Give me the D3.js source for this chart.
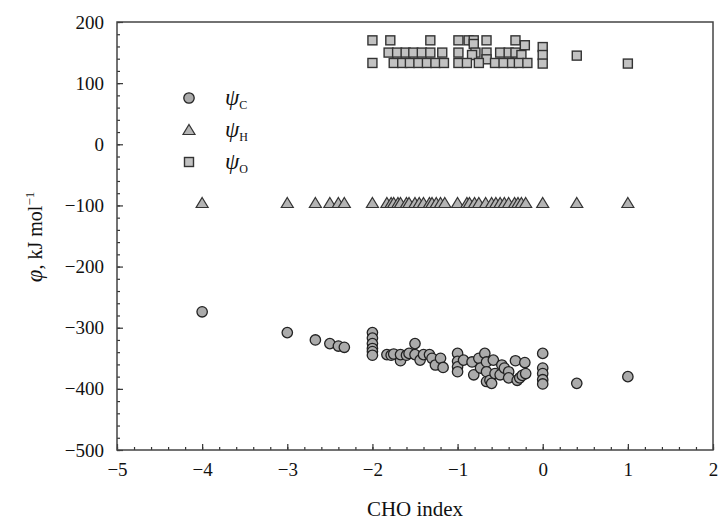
<!DOCTYPE html>
<html>
<head>
<meta charset="utf-8">
<script src="https://cdn.jsdelivr.net/npm/d3@7"></script>
<style>
  body { margin: 0; background: #fff; }
  text { font-family: "Liberation Serif", "Times New Roman", serif; fill: #111; }
</style>
</head>
<body>
<div id="chart"></div>
<script>
//data: [CHO index, value]
let psiC = [
  [-4, -274], [-3, -308], [-2.67, -320], [-2.5, -326], [-2.4, -330], [-2.33, -332],
  [-2, -308], [-2, -317], [-2, -326], [-2, -334], [-2, -339], [-2, -345],
  [-1.83, -344], [-1.78, -345], [-1.75, -343], [-1.67, -354], [-1.67, -344], [-1.6, -345],
  [-1.57, -342], [-1.5, -326], [-1.5, -344], [-1.44, -353], [-1.4, -344], [-1.33, -344],
  [-1.3, -350], [-1.26, -361], [-1.2, -350], [-1.17, -365],
  [-1, -342], [-1, -355], [-1, -364], [-1, -372],
  [-0.93, -353], [-0.83, -356], [-0.81, -377], [-0.75, -350], [-0.73, -366],
  [-0.68, -342], [-0.66, -356], [-0.66, -372], [-0.66, -388], [-0.62, -386], [-0.6, -391],
  [-0.58, -353], [-0.56, -375], [-0.48, -361], [-0.5, -377], [-0.45, -366], [-0.4, -372],
  [-0.4, -382], [-0.32, -354], [-0.3, -386], [-0.27, -382], [-0.24, -378], [-0.21, -357], [-0.2, -375],
  [0, -342], [0, -366], [0, -375], [0, -385], [0, -392],
  [0.4, -391], [1, -380]
];

let psiH = [
  [-4, -96], [-3, -96], [-2.67, -96], [-2.5, -96], [-2.4, -96], [-2.33, -96], [-2, -96],
  [-1.83, -96], [-1.78, -96], [-1.75, -96], [-1.7, -96], [-1.67, -96], [-1.6, -96],
  [-1.57, -96], [-1.5, -96], [-1.45, -96], [-1.4, -96], [-1.33, -96], [-1.3, -96],
  [-1.25, -96], [-1.2, -96], [-1.15, -96], [-1, -96], [-0.89, -96], [-0.86, -96],
  [-0.8, -96], [-0.75, -96], [-0.67, -96], [-0.6, -96], [-0.55, -96], [-0.5, -96],
  [-0.45, -96], [-0.4, -96], [-0.33, -96], [-0.29, -96], [-0.25, -96], [-0.2, -96],
  [0, -96], [0.4, -96], [1, -96]
];

let psiO = [
  [-2, 170], [-1.79, 170], [-1.32, 170], [-0.99, 170], [-0.87, 170], [-0.81, 170], [-0.66, 170], [-0.32, 170],
  [-0.81, 164], [-0.21, 162], [0, 159],
  [-1.81, 150], [-1.71, 150], [-1.61, 150], [-1.52, 150], [-1.42, 150], [-1.32, 150], [-1.18, 150],
  [-0.99, 150], [-0.79, 150], [-0.66, 150], [-0.5, 150], [-0.4, 150], [-0.32, 150],
  [-0.83, 146], [-0.25, 146], [0, 146],
  [-0.66, 139],
  [-2, 133], [-1.75, 133], [-1.65, 133], [-1.56, 133], [-1.46, 133], [-1.36, 133], [-1.26, 133],
  [-1.16, 133], [-0.99, 133], [-0.89, 133], [-0.75, 133], [-0.56, 133], [-0.46, 133],
  [-0.36, 133], [-0.28, 133], [-0.18, 133], [0, 132],
  [0.4, 145], [1, 132]
];

let xTicks = [-5, -4, -3, -2, -1, 0, 1, 2];
let yTicks = [200, 100, 0, -100, -200, -300, -400, -500];
let legendNames = ["C", "H", "O"];

//layout
let width = 720, height = 523;
let plotLeft = 117, plotRight = 713, plotTop = 22, plotBottom = 450;

let svg = d3.select("#chart")
        .append("svg")
        .attr("width", width)
        .attr("height", height);

let x = d3.scaleLinear().domain([-5, 2]).range([plotLeft, plotRight]);
let y = d3.scaleLinear().domain([-500, 200]).range([plotBottom, plotTop]);

//minor ticks first so the major ones sit on top
let xMinor = d3.range(-5, 2.001, 0.2);
let yMinor = d3.range(-500, 200.001, 20);

svg.append("g")
  .attr("transform", "translate(0," + plotBottom + ")")
  .call(d3.axisBottom(x).tickValues(xMinor).tickSize(-3).tickFormat(""))
  .call(g => g.select(".domain").remove());

svg.append("g")
  .attr("transform", "translate(" + plotLeft + ",0)")
  .call(d3.axisLeft(y).tickValues(yMinor).tickSize(-3).tickFormat(""))
  .call(g => g.select(".domain").remove());

let xAxis = svg.append("g")
  .attr("transform", "translate(0," + plotBottom + ")")
  .call(d3.axisBottom(x).tickValues(xTicks).tickSize(-6).tickPadding(13).tickFormat(d3.format("d")));
xAxis.select(".domain").remove();
xAxis.selectAll("text").style("font-size", "19px").attr("fill", "#111");

let yAxis = svg.append("g")
  .attr("transform", "translate(" + plotLeft + ",0)")
  .call(d3.axisLeft(y).tickValues(yTicks).tickSize(-6).tickPadding(13).tickFormat(d3.format("d")));
yAxis.select(".domain").remove();
yAxis.selectAll("text").style("font-size", "19px").attr("fill", "#111");

svg.selectAll(".tick line").attr("stroke", "#333").attr("stroke-width", 1.2);

//frame
svg.append("rect")
  .attr("x", plotLeft).attr("y", plotTop)
  .attr("width", plotRight - plotLeft).attr("height", plotBottom - plotTop)
  .attr("fill", "none")
  .attr("stroke", "#444")
  .attr("stroke-width", 1.5);

//markers
function drawSquare(sel, s){
  sel.append("rect")
    .attr("x", -s / 2).attr("y", -s / 2)
    .attr("width", s).attr("height", s)
    .attr("fill", "#c2c2c2").attr("stroke", "#333").attr("stroke-width", 1.4);
}
function drawTriangle(sel, s){
  sel.append("path")
    .attr("d", "M0," + (-s * 0.55) + "L" + (s * 0.6) + "," + (s * 0.45) + "L" + (-s * 0.6) + "," + (s * 0.45) + "Z")
    .attr("fill", "#b4b4b4").attr("stroke", "#333").attr("stroke-width", 1.2);
}
function drawCircle(sel, r){
  sel.append("circle")
    .attr("r", r)
    .attr("fill", "#ababab").attr("stroke", "#222").attr("stroke-width", 1.3);
}

svg.append("g").selectAll("g")
  .data(psiO).enter().append("g")
  .attr("transform", d => "translate(" + x(d[0]) + "," + y(d[1]) + ")")
  .each(function(){ drawSquare(d3.select(this), 9); });

svg.append("g").selectAll("g")
  .data(psiH).enter().append("g")
  .attr("transform", d => "translate(" + x(d[0]) + "," + y(d[1]) + ")")
  .each(function(){ drawTriangle(d3.select(this), 10); });

svg.append("g").selectAll("g")
  .data(psiC).enter().append("g")
  .attr("transform", d => "translate(" + x(d[0]) + "," + y(d[1]) + ")")
  .each(function(){ drawCircle(d3.select(this), 5.2); });

//legend
let legendX = 189, legendY = 98, legendGap = 32;
let markerFns = [g => drawCircle(g, 5.2), g => drawTriangle(g, 10), g => drawSquare(g, 9)];
legendNames.forEach(function(name, i){
  let g = svg.append("g").attr("transform", "translate(" + legendX + "," + (legendY + i * legendGap) + ")");
  markerFns[i](g);
  let t = g.append("text").attr("x", 36).attr("y", 7).style("font-size", "23px");
  t.append("tspan").style("font-style", "italic").text("ψ");
  t.append("tspan").attr("dy", 4).style("font-size", "12px").text(name);
});

//axis titles
svg.append("text")
  .attr("x", (plotLeft + plotRight) / 2)
  .attr("y", 516)
  .attr("text-anchor", "middle")
  .style("font-size", "21px")
  .text("CHO index");

let yTitle = svg.append("text")
  .attr("transform", "translate(42," + 237 + ") rotate(-90)")
  .attr("text-anchor", "middle")
  .style("font-size", "20px");
yTitle.append("tspan").style("font-style", "italic").style("font-size", "23px").text("φ");
yTitle.append("tspan").text(", kJ mol");
yTitle.append("tspan").attr("dy", -8).style("font-size", "13px").text("−1");
</script>
</body>
</html>
